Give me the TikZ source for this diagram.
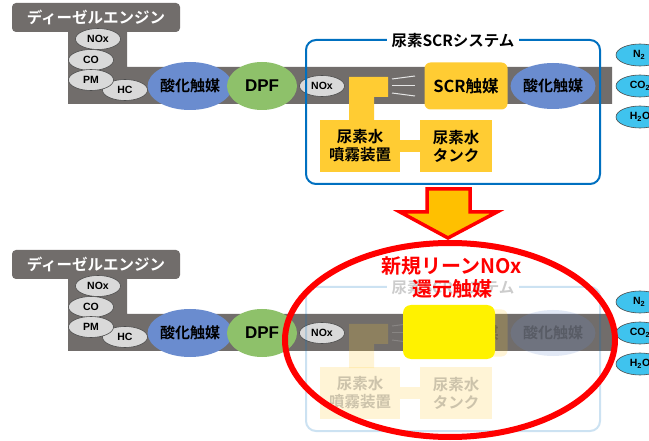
\documentclass[tikz,border=0pt]{standalone}
\usepackage{fontspec}
\setmainfont{Liberation Sans}
\newfontfamily\jp{Noto Sans CJK JP}[BoldFont={Noto Sans CJK JP Bold}]
\usetikzlibrary{shapes.geometric}
\definecolor{pipegray}{HTML}{716D6B}
\definecolor{gasgray}{HTML}{D9D9D9}
\definecolor{catblue}{HTML}{6A8CCF}
\definecolor{dpfgreen}{HTML}{8EC16A}
\definecolor{scryellow}{HTML}{FFCC33}
\definecolor{sysblue}{HTML}{0070C0}
\definecolor{outcyan}{HTML}{3FC3EE}
\definecolor{arroworange}{HTML}{FFC000}
\tikzset{
 gas/.style={ellipse, draw=black!70, fill=gasgray, line width=0.6pt, minimum width=45pt, minimum height=21pt, inner sep=0pt, font=\bfseries\fontsize{10.5}{11}\selectfont},
 cat/.style={ellipse, fill=catblue, minimum width=80pt, minimum height=48pt, inner sep=0pt, font=\jp\bfseries\fontsize{15}{16}\selectfont},
 dpf/.style={ellipse, fill=dpfgreen, minimum width=70pt, minimum height=48pt, inner sep=0pt, font=\bfseries\fontsize{17}{18}\selectfont},
 outgas/.style={ellipse, draw=black!70, line width=0.6pt, fill=outcyan, minimum width=48pt, minimum height=22pt, inner sep=0pt, font=\bfseries\fontsize{10.5}{11}\selectfont},
 ybox/.style={fill=scryellow, inner sep=0pt, font=\jp\bfseries\fontsize{15.5}{18}\selectfont, align=center},
 spraylines/.style={draw=white!80!gray, line width=1pt},
}
\newcommand\dieselpart{%
 \fill[pipegray, rounded corners=4pt] (12,3) rectangle (180,32);
 \node[text=white, font=\jp\bfseries\fontsize{15.5}{16}\selectfont] (engine) at (96,17) {ディーゼルエンジン};
 \fill[pipegray] (68,30) -- (127,30) -- (127,67) -- (612,67) -- (612,104) -- (68,104) -- cycle;
 \node[gas] (nox1) at (98,39) {NOx};
 \node[gas] (co) at (91,60) {CO};
 \node[gas] (hc) at (125,90) {HC};
 \node[gas] (pm) at (91,80) {PM};
 \node[cat] (oxcat) at (190,86) {酸化触媒};
 \node[dpf] (dpf) at (262,86) {DPF};
 \node[gas] (nox2) at (322,86) {NOx};
 \node[outgas] (n2) at (640,55) {N\textsubscript{2}\,};
 \node[outgas] (co2) at (640,86) {CO\textsubscript{2}};
 \node[outgas] (h2o) at (640,117) {H\textsubscript{2}O};
}
\newcommand\scrpart[1]{%
 \begin{scope}[opacity=#1]
 \draw[sysblue, line width=2pt, rounded corners=10pt] (306,40) rectangle (600,184);
 \draw[spraylines] (392,79) -- (415,76);
 \draw[spraylines] (392,86) -- (415,86);
 \draw[spraylines] (392,93) -- (415,96);
 \node[ybox, minimum width=80pt, minimum height=52pt] (spray) at (360,146) {尿素水\\噴霧装置};
 \node[ybox, minimum width=72pt, minimum height=52pt] (tank) at (456,146) {尿素水\\タンク};
 \fill[scryellow] ([yshift=6pt]spray.east) rectangle ([yshift=-6pt]tank.west);
 \fill[scryellow] (349,77) -- (388,77) -- (388,97) -- (374,97) -- (374,121) -- (349,121) -- cycle;
 \node[ybox, rounded corners=6pt, minimum width=83pt, minimum height=47pt, font=\jp\bfseries\fontsize{16.5}{17}\selectfont] (scr) at (466,86) {SCR触媒};
 \node[cat, minimum height=46pt] (oxcat2) at (553,86) {酸化触媒};
 \end{scope}
 \node[fill=white, fill opacity=1, text opacity=#1, inner xsep=5pt, inner ysep=2pt, font=\jp\bfseries\fontsize{15.5}{16}\selectfont] (systitle) at (453,41) {尿素SCRシステム};
}
\begin{document}
\begin{tikzpicture}[x=1pt, y=-1pt]
\clip (0,0) rectangle (649,441);
\fill[white] (0,0) rectangle (649,441);
% top
\begin{scope}[name prefix=t-]
\dieselpart
\scrpart{1}
\end{scope}
% arrow
\filldraw[fill=arroworange, draw=red, line width=3.5pt, line join=miter]
 (427,189) -- (470,189) -- (470,212) -- (497,212) -- (448,238) -- (400,212) -- (427,212) -- cycle;
% bottom
\begin{scope}[shift={(0,247)}, name prefix=b-]
\dieselpart
\scrpart{0.2}
\end{scope}
\fill[yellow, rounded corners=8pt] (403,305) rectangle (495,359);
\node[ellipse, draw=red, line width=6pt, minimum width=330pt, minimum height=194pt, inner sep=0pt] (newcat) at (450,340) {};
\node[text=red, font=\jp\bfseries\fontsize{20}{23}\selectfont, align=center] (newlabel) at (452,278) {新規リーンNOx\\還元触媒};
\end{tikzpicture}
\end{document}
